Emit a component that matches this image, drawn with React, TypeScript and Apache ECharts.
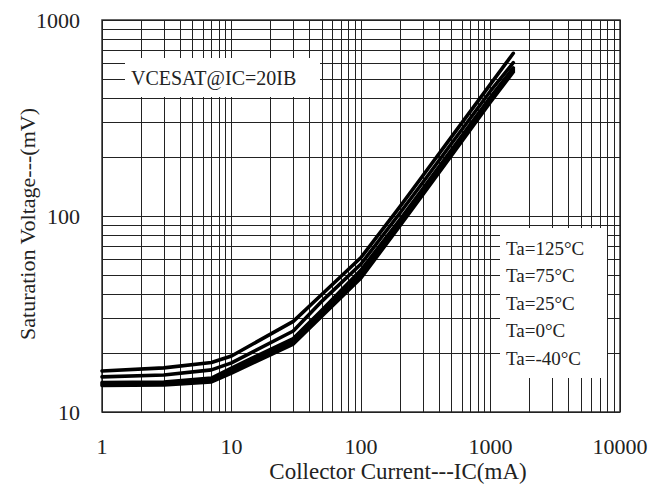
import React, { useEffect, useRef } from "react";
import * as echarts from "echarts";

// Collector current (mA)
const currents = [1, 3, 7, 10, 30, 50, 100, 200, 300, 500, 1000, 1500];
// Saturation voltage (mV) for each temperature
const v125 = [16.2, 16.8, 17.9, 19.3, 29.0, 39.9, 61.4, 111.7, 160.4, 253.2, 470.9, 676.4];
const v75 = [15.1, 15.45, 16.4, 17.8, 25.9, 36.8, 56.9, 103.6, 148.3, 234.4, 434.3, 605.5];
const v25 = [14.14, 14.23, 14.91, 16.77, 23.71, 33.14, 53.03, 95.85, 137.7, 217.4, 404.6, 569.1];
const v0 = [13.9, 13.98, 14.57, 16.28, 22.89, 32.0, 50.6, 92.5, 132.9, 209.8, 392.9, 555.6];
const vm40 = [13.65, 13.73, 14.23, 15.81, 22.23, 30.89, 48.29, 89.3, 128.3, 203.8, 381.5, 542.9];

const seriesNames = ["Ta=125°C", "Ta=75°C", "Ta=25°C", "Ta=0°C", "Ta=-40°C"];
const seriesValues = [v125, v75, v25, v0, vm40];

// axis decades and grid multipliers
const xDecades = [1, 10, 100, 1000];
const yDecades = [10, 100];
const gridMultipliers = [1, 2, 3, 4, 5, 6, 7, 8, 9];
const xMax = 10000;
const yMin = 10;
const yMax = 1000;

const FONT = "'Liberation Serif', 'DejaVu Serif', serif";

export default function App() {
  const ref = useRef<HTMLDivElement>(null);
  useEffect(() => {
    if (!ref.current) return;
    const chart = echarts.init(ref.current, undefined, { renderer: "svg" });

    const xGrid: number[] = [];
    xDecades.forEach((d) => gridMultipliers.forEach((m) => xGrid.push(d * m)));
    xGrid.push(xMax);
    const yGrid: number[] = [];
    yDecades.forEach((d) => gridMultipliers.forEach((m) => yGrid.push(d * m)));
    yGrid.push(yMax);

    const curveSeries = seriesNames.map((name, i) => ({
      name,
      type: "line",
      data: currents.map((c, j) => [c, seriesValues[i][j]]),
      showSymbol: false,
      symbol: "none",
      z: 5,
      lineStyle: { color: "#000", width: 3.6, cap: "round", join: "round" },
      silent: true,
    }));

    const gridSeries = {
      name: "grid",
      type: "line",
      data: [[1, 10]],
      showSymbol: false,
      symbol: "none",
      lineStyle: { width: 0, opacity: 0 },
      z: 1,
      silent: true,
      markLine: {
        silent: true,
        symbol: ["none", "none"],
        label: { show: false },
        lineStyle: { color: "#222", width: 1, type: "solid" },
        emphasis: { disabled: true },
        data: [
          ...xGrid.map((v) => ({ xAxis: v })),
          ...yGrid.map((v) => ({ yAxis: v })),
        ],
      },
    };

    chart.setOption({
      animation: false,
      backgroundColor: "#fff",
      grid: {
        left: 102,
        right: 45,
        top: 20,
        bottom: 76,
        show: true,
        borderColor: "#333",
        borderWidth: 1.5,
      },
      xAxis: {
        type: "log",
        logBase: 10,
        min: 1,
        max: xMax,
        axisLine: { show: false },
        axisTick: { show: false },
        splitLine: { show: false },
        axisLabel: {
          fontFamily: FONT,
          fontSize: 22,
          color: "#222",
          margin: 23,
          formatter: (v: number) => String(Math.round(v)),
        },
      },
      yAxis: {
        type: "log",
        logBase: 10,
        min: yMin,
        max: yMax,
        axisLine: { show: false },
        axisTick: { show: false },
        splitLine: { show: false },
        axisLabel: {
          fontFamily: FONT,
          fontSize: 22,
          color: "#222",
          margin: 22,
          formatter: (v: number) => String(Math.round(v)),
        },
      },
      series: [gridSeries, ...curveSeries],
      graphic: [
        {
          type: "rect",
          z: 50,
          shape: { x: 125, y: 58, width: 195, height: 39 },
          style: { fill: "#fff" },
        },
        {
          type: "text",
          z: 51,
          x: 131,
          y: 78,
          style: {
            text: "VCESAT@IC=20IB",
            font: `20px ${FONT}`,
            fill: "#222",
            textAlign: "left",
            textVerticalAlign: "middle",
            align: "left",
            verticalAlign: "middle",
          },
        },
        {
          type: "rect",
          z: 50,
          shape: { x: 500, y: 228, width: 107, height: 150 },
          style: { fill: "#fff" },
        },
        ...seriesNames.map((name, i) => ({
          type: "text",
          z: 51,
          x: 506,
          y: 248 + i * 27.5,
          style: {
            text: name,
            font: `19px ${FONT}`,
            fill: "#222",
            textAlign: "left",
            textVerticalAlign: "middle",
            align: "left",
            verticalAlign: "middle",
          },
        })),
        {
          type: "text",
          z: 51,
          x: 398,
          y: 471,
          style: {
            text: "Collector Current---IC(mA)",
            font: `23px ${FONT}`,
            fill: "#222",
            textAlign: "center",
            textVerticalAlign: "middle",
            align: "center",
            verticalAlign: "middle",
          },
        },
        {
          type: "text",
          z: 51,
          x: 27,
          y: 224,
          rotation: Math.PI / 2,
          style: {
            text: "Saturation Voltage---(mV)",
            font: `22px ${FONT}`,
            fill: "#222",
            textAlign: "center",
            textVerticalAlign: "middle",
            align: "center",
            verticalAlign: "middle",
          },
        },
      ],
    });
    return () => chart.dispose();
  }, []);
  return (
    <div
      ref={ref}
      style={{ position: "fixed", left: 0, top: 0, width: 665, height: 488 }}
    />
  );
}
